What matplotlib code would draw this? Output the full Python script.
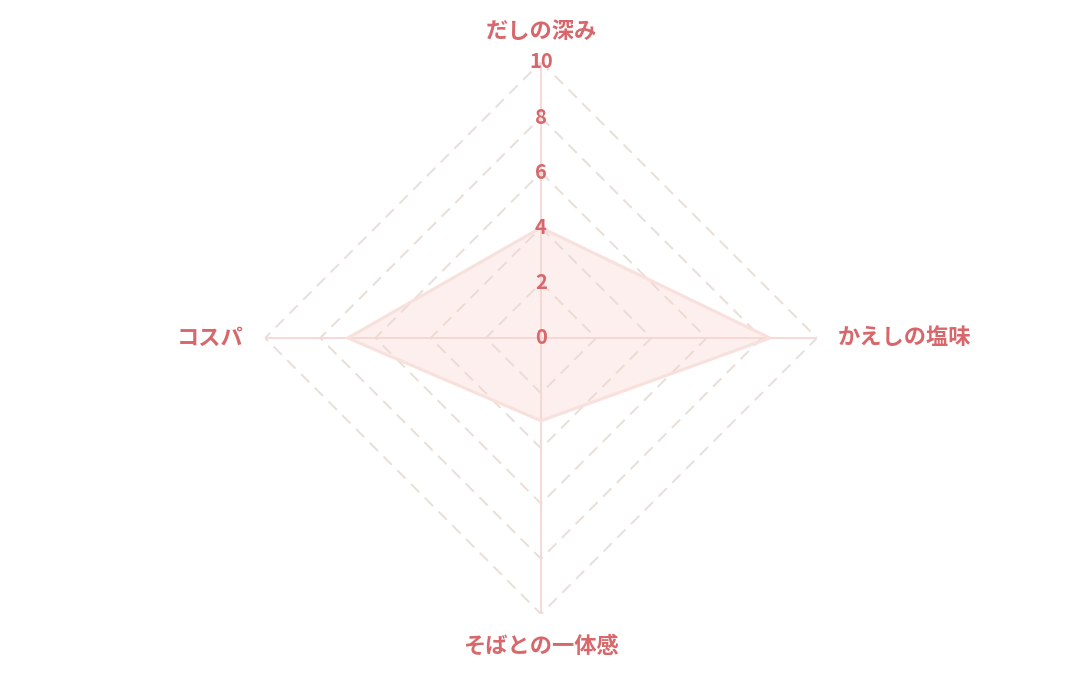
import numpy as np
import matplotlib
matplotlib.use("Agg")
import matplotlib.pyplot as plt

plt.rcParams['font.family'] = ['Noto Sans CJK JP', 'DejaVu Sans']

# データ
labels = ['だしの深み', 'かえしの塩味', 'そばとの一体感', 'コスパ']
values = [4, 8.3, 3, 7]
ticks = [0, 2, 4, 6, 8, 10]

text_col = '#d7676a'
grid_col = '#e8dfd9'
spoke_col = '#f5d9d7'

fig = plt.figure(figsize=(10.8, 6.75), dpi=100)
ax = fig.add_axes([265 / 1080, 61 / 675, 552 / 1080, 552 / 675], polar=True)
ax.set_theta_offset(np.pi / 2)
ax.set_theta_direction(-1)
ax.set_ylim(0, 10)
ax.grid(False)
ax.spines['polar'].set_visible(False)
ax.set_xticks([])
ax.set_yticks([])
ax.patch.set_alpha(0)

n = len(labels)
angles = np.arange(n) * 2 * np.pi / n
closed = np.append(angles, angles[0])

# 目盛りの菱形（破線）
for r in ticks[1:]:
    ax.plot(closed, [r] * (n + 1), color=grid_col, lw=1.4, ls=(0, (6, 4)), zorder=1)

# 軸線
for a in angles:
    ax.plot([a, a], [0, 10], color=spoke_col, lw=1.4, zorder=1)

# データ
v = np.append(values, values[0])
ax.fill(closed, v, color='#f8d3cc', alpha=0.35, zorder=2, lw=0)
ax.plot(closed, v, color='#f8e0dc', lw=2.2, zorder=3)

# 目盛りラベル
for r in ticks:
    ax.text(0, r, str(r), ha='center', va='center', color=text_col,
            fontsize=14.5, fontweight='bold', zorder=5)

# 項目ラベル
offsets = [(0, 30, 'center'), (21, 0, 'left'), (0, -32, 'center'), (-21, 0, 'right')]
for a, lab, (dx, dy, ha) in zip(angles, labels, offsets):
    ax.annotate(lab, xy=(a, 10), xytext=(dx, dy), textcoords='offset pixels',
                ha=ha, va='center', color=text_col, fontsize=16, fontweight='bold',
                annotation_clip=False)

fig.savefig('out.png', dpi=100)
